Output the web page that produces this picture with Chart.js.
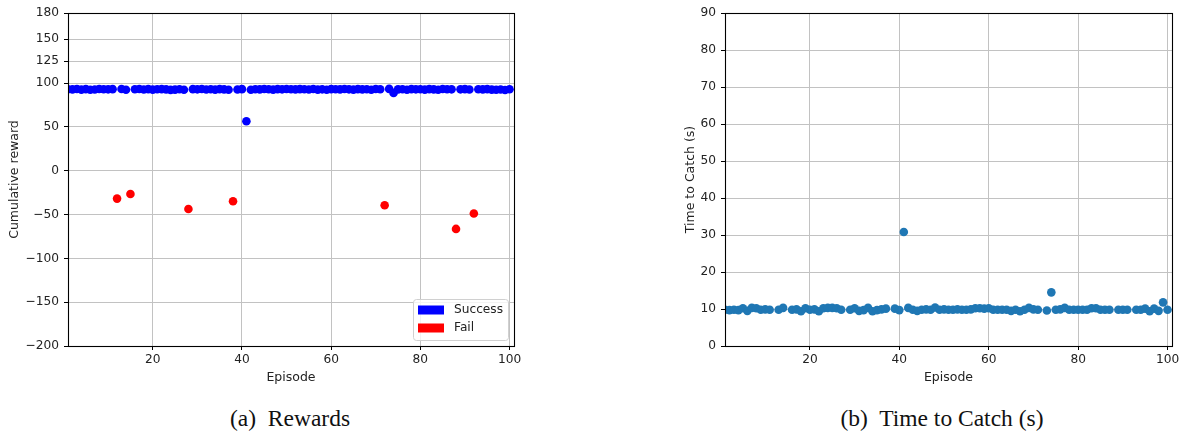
<!DOCTYPE html>
<html>
<head>
<meta charset="utf-8">
<script src="https://cdn.jsdelivr.net/npm/chart.js@4.4.1/dist/chart.umd.min.js"></script>
<style>
  html, body { margin: 0; padding: 0; background: #fff; }
  body { width: 1184px; height: 439px; position: relative; overflow: hidden; }
  canvas { position: absolute; top: 0; }
  #cRew { left: 0; }
  #cTime { left: 592px; }
  .cap {
    position: absolute; top: 405px; width: 400px; text-align: center;
    font-family: "Liberation Serif", "DejaVu Serif", serif; font-size: 23.5px; color: #111;
  }
</style>
</head>
<body>
<canvas id="cRew" width="592" height="390"></canvas>
<canvas id="cTime" width="592" height="390"></canvas>
<div class="cap" style="left:90px">(a)&nbsp; Rewards</div>
<div class="cap" style="left:742px">(b)&nbsp; Time to Catch (s)</div>
<script>
// Per-episode results (episodes 1..100)
const failEpisodes = [12, 15, 28, 38, 72, 88, 92];

const rewards = [
  93.0, 92.8, 93.2, 92.6, 93.1, 92.4, 92.7, 93.3, 93.0, 92.9,
  93.1, -31.8, 93.2, 92.5, -26.5, 93.0, 93.2, 92.7, 93.1, 92.6,
  93.0, 93.1, 92.8, 92.3, 92.6, 93.0, 92.5, -43.6, 93.1, 92.9,
  93.2, 92.7, 93.0, 92.6, 93.1, 92.8, 92.4, -34.9, 92.7, 93.1,
  56.4, 92.5, 93.0, 92.8, 93.2, 93.0, 92.6, 93.1, 92.9, 93.2,
  93.0, 92.8, 93.1, 93.0, 92.7, 93.2, 92.6, 92.9, 92.4, 93.1,
  93.0, 92.8, 93.2, 92.9, 92.6, 93.1, 92.8, 93.0, 92.5, 93.2,
  93.0, -39.4, 93.4, 88.8, 92.8, 93.0, 92.4, 93.1, 92.9, 93.0,
  92.6, 93.1, 92.8, 92.5, 93.2, 93.0, 92.9, -66.4, 92.9, 93.1,
  92.7, -48.8, 93.0, 92.8, 93.1, 92.6, 92.5, 92.7, 92.2, 93.0
];

// Time to catch in seconds; null where the episode failed
const catchTimes = [
  9.8, 9.7, 9.8, 9.7, 10.2, 9.5, 10.3, 10.2, 9.8, 9.9,
  9.8, null, 9.8, 10.3, null, 9.8, 9.9, 9.4, 10.2, 9.8,
  9.9, 9.4, 10.2, 10.3, 10.3, 10.2, 9.8, null, 9.8, 10.2,
  9.5, 9.7, 10.3, 9.4, 9.7, 9.9, 10.1, null, 10.1, 9.7,
  30.8, 10.3, 9.8, 9.5, 9.8, 9.9, 9.8, 10.4, 9.8, 9.9,
  9.8, 9.8, 9.9, 9.8, 9.8, 9.9, 10.2, 10.2, 10.1, 10.2,
  9.8, 9.8, 9.8, 9.8, 9.5, 9.8, 9.4, 9.8, 10.3, 9.9,
  9.8, null, 9.6, 14.5, 9.8, 9.9, 10.3, 9.8, 9.8, 9.8,
  9.8, 9.8, 10.2, 10.2, 9.8, 9.8, 9.8, null, 9.8, 9.8,
  9.8, null, 9.8, 9.8, 10.1, 9.4, 10.1, 9.5, 11.8, 9.8
];

const episodeTicks = [20, 40, 60, 80, 100];
const rewardTicks = [-200, -150, -100, -50, 0, 50, 100, 125, 150, 180];
const timeTicks = [0, 10, 20, 30, 40, 50, 60, 70, 80, 90];

const seriesLabels = ['Success', 'Fail'];
const axisTitles = { episode: 'Episode', reward: 'Cumulative reward', time: 'Time to Catch (s)' };

// ---- build point lists ----
const successPts = [], failPts = [], timePts = [];
rewards.forEach((r, i) => {
  const ep = i + 1;
  (failEpisodes.includes(ep) ? failPts : successPts).push({ x: ep, y: r });
});
catchTimes.forEach((t, i) => { if (t !== null) timePts.push({ x: i + 1, y: t }); });

// ---- shared styling ----
const TICK_FONT = { family: 'DejaVu Sans', size: 12.2 };
const TITLE_FONT = { family: 'DejaVu Sans', size: 12.5 };
const GRID = { color: '#c2c2c2', lineWidth: 1, tickColor: '#000', tickLength: 4, drawTicks: true };

function fixedTicks(list) {
  return s => { s.ticks = list.map(v => ({ value: v })); };
}
// Typographic minus for negative tick values
const fmt = v => (v < 0 ? '\u2212' + Math.abs(v) : String(v));

function xScale() {
  return {
    type: 'linear', min: 1, max: 101, z: 1,
    afterBuildTicks: fixedTicks(episodeTicks),
    afterFit: s => { s.height = 44; },
    grid: GRID,
    border: { display: false },
    ticks: { font: TICK_FONT, color: '#222', padding: 3, maxRotation: 0, callback: fmt },
    title: { display: true, text: axisTitles.episode, font: TITLE_FONT, color: '#222', padding: { top: 0, bottom: 5 } }
  };
}

function yScale(min, max, ticks, title, width) {
  return {
    type: 'linear', min, max, z: 1,
    afterBuildTicks: fixedTicks(ticks),
    afterFit: s => { s.width = width; },
    grid: GRID,
    border: { display: false },
    ticks: { font: TICK_FONT, color: '#222', padding: 5, callback: fmt },
    title: { display: true, text: title, font: TITLE_FONT, color: '#222', padding: { top: 7, bottom: 0 } }
  };
}

// Black frame around the plotting area
const frame = {
  id: 'frame',
  afterDraw(chart) {
    const { ctx, chartArea: a } = chart;
    ctx.save();
    ctx.strokeStyle = '#000';
    ctx.lineWidth = 1.1;
    ctx.strokeRect(Math.round(a.left) + 0.5, Math.round(a.top) + 0.5,
                   Math.round(a.right - a.left), Math.round(a.bottom - a.top));
    ctx.restore();
  }
};

// Boxed legend in the lower-right corner of the plotting area
const cornerLegend = {
  id: 'cornerLegend',
  afterDraw(chart) {
    const { ctx, chartArea: a } = chart;
    const w = 95, h = 41;
    const x0 = a.right - 6 - w, y0 = a.bottom - 6 - h;
    ctx.save();
    ctx.fillStyle = 'rgba(255,255,255,0.8)';
    ctx.strokeStyle = '#d0d0d0';
    ctx.lineWidth = 1;
    ctx.beginPath();
    ctx.roundRect(x0 + 0.5, y0 + 0.5, w, h, 3);
    ctx.fill();
    ctx.stroke();
    ctx.font = '12.2px "DejaVu Sans"';
    ctx.textBaseline = 'middle';
    chart.data.datasets.forEach((ds, i) => {
      const cy = y0 + 11 + i * 18;
      ctx.fillStyle = ds.backgroundColor;
      ctx.fillRect(x0 + 5, cy - 4.5, 26, 9);
      ctx.fillStyle = '#222';
      ctx.fillText(ds.label, x0 + 41, cy);
    });
    ctx.restore();
  }
};

const common = {
  responsive: false,
  devicePixelRatio: 1,
  animation: false,
  events: [],
  plugins: { legend: { display: false }, tooltip: { enabled: false } }
};

new Chart(document.getElementById('cRew'), {
  type: 'scatter',
  data: {
    datasets: [
      { label: seriesLabels[0], data: successPts, backgroundColor: '#0000ff', borderWidth: 0, pointRadius: 4.3 },
      { label: seriesLabels[1], data: failPts, backgroundColor: '#ff0000', borderWidth: 0, pointRadius: 4.3 }
    ]
  },
  options: Object.assign({}, common, {
    layout: { padding: { left: 0, right: 78, top: 13, bottom: 0 } },
    scales: { x: xScale(), y: yScale(-200, 180, rewardTicks, axisTitles.reward, 68) }
  }),
  plugins: [frame, cornerLegend]
});

new Chart(document.getElementById('cTime'), {
  type: 'scatter',
  data: {
    datasets: [
      { label: axisTitles.time, data: timePts, backgroundColor: '#1f77b4', borderWidth: 0, pointRadius: 4.3 }
    ]
  },
  options: Object.assign({}, common, {
    layout: { padding: { left: 84, right: 12, top: 13, bottom: 0 } },
    scales: { x: xScale(), y: yScale(0, 90, timeTicks, axisTitles.time, 49) }
  }),
  plugins: [frame]
});
</script>
</body>
</html>
